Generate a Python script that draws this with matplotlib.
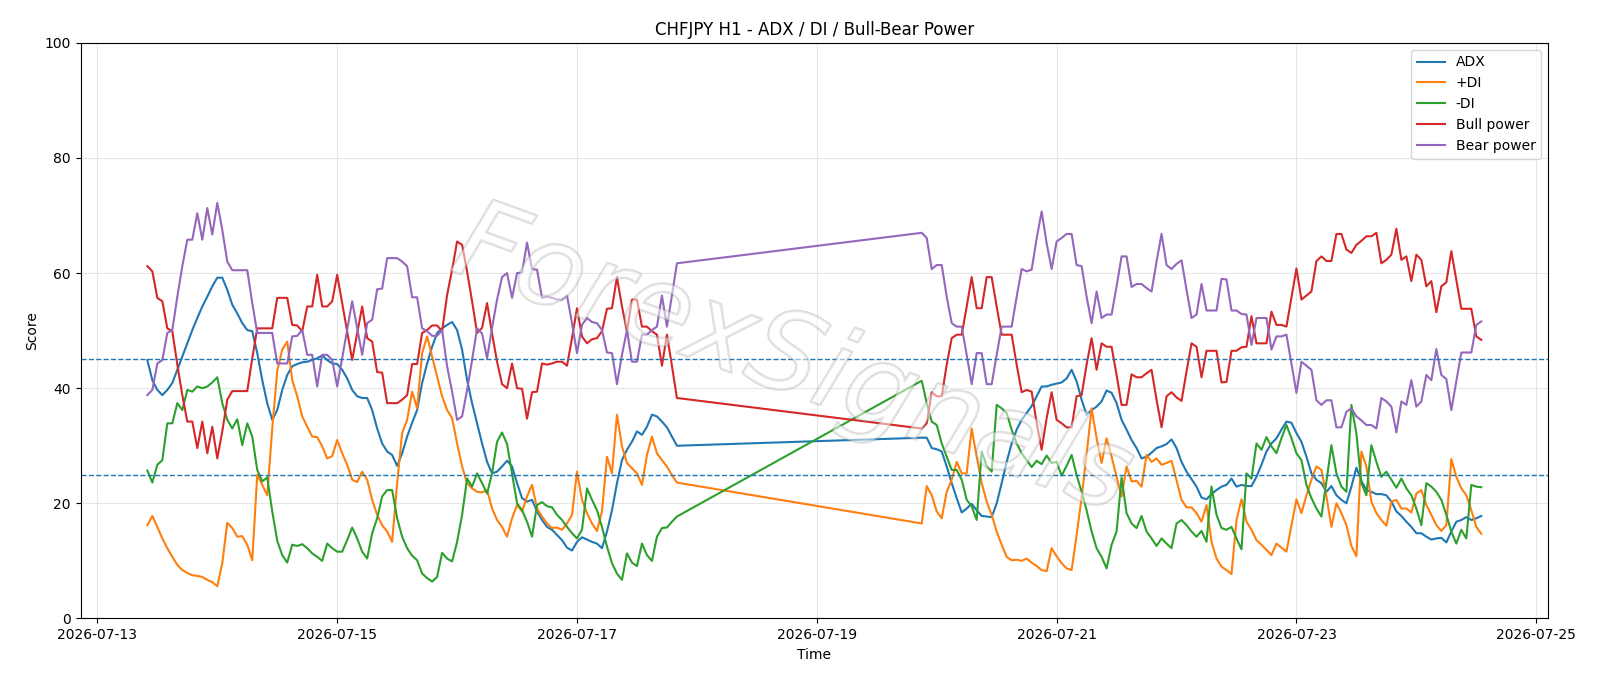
import matplotlib
matplotlib.use("Agg")
import matplotlib.pyplot as plt
import matplotlib.dates as mdates
import matplotlib.patheffects as pe
import pandas as pd

# hourly bars: Mon 07-13 10:00 .. Fri 07-17 20:00, then Sun 07-19 21:00 .. Fri 07-24 13:00
times = list(pd.date_range("2026-07-13 10:00", "2026-07-17 20:00", freq="h")) + \
        list(pd.date_range("2026-07-19 21:00", "2026-07-24 13:00", freq="h"))

adx = [
    44.9, 41.4, 39.7, 38.8, 39.7, 40.9, 43.2, 45.5, 47.8, 50.1,
    52.2, 54.2, 55.9, 57.7, 59.2, 59.2, 57.1, 54.5, 53.0, 51.3,
    50.1, 49.9, 46.1, 41.4, 37.4, 34.5, 36.2, 39.7, 42.3, 43.8,
    44.2, 44.5, 44.6, 44.9, 45.2, 45.7, 44.9, 44.3, 44.2, 43.2,
    41.7, 39.7, 38.6, 38.3, 38.3, 36.2, 33.0, 30.4, 29.0, 28.4,
    26.5, 28.7, 31.6, 34.0, 36.2, 40.9, 44.3, 47.2, 49.6, 50.4,
    51.0, 51.5, 50.1, 46.7, 41.4, 37.4, 33.9, 30.4, 27.2, 25.2,
    25.5, 26.4, 27.4, 26.4, 23.5, 20.9, 20.3, 20.6, 18.6, 17.1,
    15.9, 15.4, 14.5, 13.6, 12.3, 11.8, 13.3, 14.1, 13.7, 13.3,
    13.0, 12.2, 15.1, 18.8, 23.5, 27.5, 29.3, 30.7, 32.5, 31.9,
    33.3, 35.4, 35.1, 34.2, 33.2, 31.6, 30.0,
    31.4, 31.4, 29.6, 29.4, 29.0, 26.4, 23.5, 20.9, 18.4, 19.1,
    19.9, 18.8, 17.8, 17.7, 17.6, 20.0, 23.5, 27.2, 30.4, 32.8,
    34.5, 35.7, 36.9, 38.6, 40.3, 40.3, 40.6, 40.8, 41.0, 41.7,
    43.2, 41.2, 38.0, 35.4, 36.2, 36.8, 37.7, 39.6, 39.2, 37.4,
    34.5, 32.8, 31.0, 29.6, 27.8, 28.1, 28.8, 29.6, 29.9, 30.3,
    31.1, 29.6, 27.2, 25.5, 24.2, 22.9, 21.0, 20.7, 21.6, 22.3,
    22.9, 23.2, 24.3, 22.9, 23.2, 23.0, 23.0, 24.6, 26.7, 29.0,
    30.4, 31.3, 32.8, 34.2, 34.0, 32.2, 30.7, 28.1, 25.2, 24.1,
    23.5, 22.0, 23.0, 21.4, 20.6, 20.0, 22.9, 26.2, 23.9, 22.3,
    22.0, 21.6, 21.6, 21.4, 20.3, 18.6, 17.8, 16.8, 15.9, 14.8,
    14.8, 14.2, 13.7, 13.9, 14.0, 13.2, 15.1, 16.8, 17.1, 17.6,
    17.1, 17.4, 17.8,
]

plus_di = [
    16.2, 17.8, 15.9, 13.9, 12.2, 10.7, 9.3, 8.4, 7.9, 7.5,
    7.4, 7.2, 6.7, 6.3, 5.6, 9.6, 16.6, 15.7, 14.2, 14.3,
    12.8, 10.1, 25.0, 23.2, 21.4, 33.0, 43.0, 46.7, 48.1, 41.4,
    38.6, 35.1, 33.3, 31.6, 31.5, 29.9, 27.8, 28.2, 31.0, 28.7,
    26.7, 24.1, 23.7, 25.5, 24.1, 20.6, 18.0, 16.2, 15.1, 13.3,
    23.5, 32.2, 34.5, 39.4, 36.5, 46.1, 49.0, 45.5, 42.0, 38.6,
    36.2, 34.8, 30.4, 26.4, 23.5, 22.6, 22.0, 21.9, 22.3, 19.1,
    17.1, 15.9, 14.2, 17.4, 19.7, 18.6, 21.2, 23.2, 19.1, 17.7,
    16.5, 15.7, 15.8, 15.4, 16.5, 18.0, 25.5, 20.6, 18.3, 16.5,
    15.2, 18.6, 28.1, 25.2, 35.4, 29.9, 27.0, 26.1, 25.2, 23.2,
    28.4, 31.6, 28.7, 27.5, 26.4, 24.9, 23.6,
    16.5, 23.0, 21.4, 18.6, 17.4, 22.0, 24.1, 27.2, 25.2, 25.2,
    33.0, 28.1, 23.5, 20.3, 18.0, 15.1, 12.8, 10.7, 10.1, 10.2,
    10.0, 10.4, 9.7, 9.1, 8.4, 8.2, 12.2, 10.8, 9.6, 8.7,
    8.4, 14.5, 21.0, 28.5, 36.5, 31.3, 27.0, 31.3, 28.1, 24.6,
    21.2, 26.4, 23.8, 23.9, 22.9, 28.4, 27.2, 27.8, 26.7, 27.0,
    27.4, 24.0, 20.6, 19.3, 19.3, 18.3, 16.8, 19.7, 13.3, 10.4,
    9.0, 8.4, 7.7, 17.1, 20.7, 16.8, 15.4, 13.6, 12.8, 11.9,
    11.0, 13.0, 12.3, 11.6, 16.2, 20.7, 18.3, 21.4, 24.1, 26.4,
    25.8, 21.2, 15.9, 20.0, 18.3, 16.2, 12.6, 10.8, 29.0, 26.4,
    20.3, 18.3, 17.1, 16.1, 20.3, 20.6, 19.1, 19.1, 18.4, 21.7,
    22.3, 19.7, 18.0, 16.2, 15.2, 16.2, 27.7, 24.6, 22.6, 21.4,
    18.8, 15.9, 14.7,
]

minus_di = [
    25.7, 23.6, 26.7, 27.5, 33.9, 33.9, 37.4, 36.2, 39.7, 39.4,
    40.3, 40.0, 40.3, 41.0, 41.9, 37.4, 34.5, 33.0, 34.6, 30.1,
    33.9, 31.6, 25.8, 23.8, 24.5, 18.6, 13.5, 11.0, 9.7, 12.8,
    12.6, 12.9, 12.2, 11.3, 10.7, 10.0, 13.0, 12.2, 11.6, 11.6,
    13.6, 15.8, 13.9, 11.6, 10.4, 14.8, 17.4, 21.2, 22.3, 22.3,
    17.4, 14.2, 12.2, 10.9, 10.1, 7.8, 7.0, 6.4, 7.2, 11.4,
    10.4, 9.9, 13.3, 18.0, 24.3, 22.9, 25.2, 23.5, 21.7, 25.2,
    30.7, 32.3, 30.3, 25.2, 20.0, 18.8, 16.8, 14.2, 19.7, 20.2,
    19.5, 19.3, 18.0, 17.1, 15.9, 14.8, 13.9, 15.4, 22.6, 20.6,
    18.8, 15.9, 12.5, 9.6, 7.8, 6.7, 11.3, 9.7, 9.1, 13.0,
    11.0, 10.0, 14.2, 15.7, 15.8, 16.8, 17.7,
    41.3, 37.4, 34.2, 33.6, 30.4, 28.1, 25.8, 25.8, 24.1, 20.6,
    19.5, 17.1, 29.0, 26.5, 25.5, 37.1, 36.5, 35.7, 32.8, 30.4,
    28.7, 27.5, 26.3, 27.4, 26.8, 28.3, 27.0, 27.2, 24.8, 26.5,
    28.4, 24.9, 22.0, 18.8, 15.1, 12.2, 10.7, 8.7, 12.8, 15.1,
    24.5, 18.3, 16.5, 15.7, 17.8, 15.1, 13.9, 12.6, 13.9, 13.0,
    12.2, 16.5, 17.1, 16.2, 15.1, 14.2, 15.2, 13.3, 22.9, 18.0,
    15.7, 15.4, 15.9, 13.9, 12.0, 25.2, 24.3, 30.4, 29.3, 31.5,
    29.9, 28.7, 31.3, 33.6, 31.3, 28.7, 27.5, 23.2, 20.9, 19.1,
    17.7, 23.8, 30.1, 25.2, 22.9, 22.0, 37.1, 32.1, 23.5, 21.4,
    30.1, 27.2, 24.6, 25.5, 24.1, 22.7, 24.3, 22.6, 21.4, 19.1,
    16.2, 23.5, 22.9, 22.0, 20.6, 18.0, 15.1, 13.0, 15.4, 13.9,
    23.2, 22.9, 22.8,
]

bull_power = [
    61.2, 60.3, 55.7, 55.1, 50.4, 49.9, 44.1, 38.8, 34.2, 34.2,
    29.6, 34.2, 28.7, 33.3, 27.8, 32.5, 38.0, 39.5, 39.5, 39.5,
    39.5, 45.2, 50.4, 50.4, 50.4, 50.4, 55.7, 55.7, 55.7, 51.0,
    50.9, 49.9, 54.2, 54.2, 59.7, 54.2, 54.2, 55.1, 59.7, 54.8,
    49.8, 44.9, 49.5, 54.2, 48.7, 48.1, 42.8, 42.7, 37.4, 37.4,
    37.4, 38.0, 38.8, 44.2, 44.2, 49.6, 50.1, 50.9, 50.9, 49.9,
    56.2, 60.6, 65.5, 64.9, 60.3, 55.1, 49.6, 50.5, 54.8, 49.5,
    44.6, 40.7, 40.0, 44.3, 40.0, 39.9, 34.7, 39.3, 39.4, 44.3,
    44.1, 44.3, 44.6, 44.6, 43.9, 48.7, 53.9, 49.0, 47.8, 48.5,
    48.7, 49.9, 53.8, 53.9, 59.3, 54.2, 49.9, 55.4, 55.4, 50.7,
    50.7, 49.9, 49.3, 43.9, 49.3, 43.9, 38.3,
    33.0, 33.9, 39.3, 38.6, 38.6, 44.1, 48.7, 49.3, 49.3, 54.2,
    59.3, 53.9, 53.9, 59.3, 59.3, 54.2, 49.3, 49.3, 49.3, 44.1,
    39.3, 39.7, 39.4, 34.0, 29.3, 34.8, 39.3, 34.5, 33.9, 33.2,
    33.2, 38.6, 38.8, 44.1, 48.7, 43.2, 47.8, 47.2, 47.2, 42.3,
    37.1, 37.1, 42.4, 41.9, 41.9, 42.6, 43.2, 38.0, 33.2, 38.6,
    39.3, 38.4, 37.8, 42.9, 47.8, 47.2, 41.9, 46.5, 46.5, 46.5,
    41.0, 41.1, 46.5, 46.5, 47.1, 47.2, 52.5, 47.8, 47.8, 47.8,
    53.3, 51.0, 51.0, 50.7, 55.7, 60.8, 55.4, 56.1, 56.8, 62.1,
    62.9, 62.1, 62.1, 66.8, 66.8, 64.1, 63.5, 64.9, 65.6, 66.4,
    66.4, 67.0, 61.7, 62.3, 63.2, 67.7, 62.3, 62.9, 58.6, 63.2,
    62.3, 57.7, 58.6, 53.2, 57.7, 58.4, 63.8, 58.8, 53.8, 53.8,
    53.8, 49.0, 48.4,
]

bear_power = [
    38.8, 39.7, 44.3, 44.9, 49.6, 50.1, 55.9, 61.2, 65.8, 65.8,
    70.4, 65.8, 71.3, 66.7, 72.2, 67.5, 62.0, 60.5, 60.5, 60.5,
    60.5, 54.8, 49.6, 49.6, 49.6, 49.6, 44.3, 44.3, 44.3, 49.0,
    49.1, 50.1, 45.8, 45.8, 40.3, 45.8, 45.8, 44.9, 40.3, 45.2,
    50.2, 55.1, 50.5, 45.8, 51.3, 51.9, 57.2, 57.3, 62.6, 62.6,
    62.6, 62.0, 61.2, 55.8, 55.8, 50.4, 49.9, 49.1, 49.1, 50.1,
    43.8, 39.4, 34.5, 35.1, 39.7, 44.9, 50.4, 49.5, 45.2, 50.5,
    55.4, 59.3, 60.0, 55.7, 60.0, 60.1, 65.3, 60.7, 60.6, 55.7,
    55.9, 55.7, 55.4, 55.4, 56.1, 51.3, 46.1, 51.0, 52.2, 51.5,
    51.3, 50.1, 46.2, 46.1, 40.7, 45.8, 50.1, 44.6, 44.6, 49.3,
    49.3, 50.1, 50.7, 56.1, 50.7, 56.1, 61.7,
    67.0, 66.1, 60.7, 61.4, 61.4, 55.9, 51.3, 50.7, 50.7, 45.8,
    40.7, 46.1, 46.1, 40.7, 40.7, 45.8, 50.7, 50.7, 50.7, 55.9,
    60.7, 60.3, 60.6, 66.0, 70.7, 65.2, 60.7, 65.5, 66.1, 66.8,
    66.8, 61.4, 61.2, 55.9, 51.3, 56.8, 52.2, 52.8, 52.8, 57.7,
    62.9, 62.9, 57.6, 58.1, 58.1, 57.4, 56.8, 62.0, 66.8, 61.4,
    60.7, 61.6, 62.2, 57.1, 52.2, 52.8, 58.1, 53.5, 53.5, 53.5,
    59.0, 58.9, 53.5, 53.5, 52.9, 52.8, 47.5, 52.2, 52.2, 52.2,
    46.7, 49.0, 49.0, 49.3, 44.3, 39.2, 44.6, 43.9, 43.2, 37.9,
    37.1, 37.9, 37.9, 33.2, 33.2, 35.9, 36.5, 35.1, 34.4, 33.6,
    33.6, 33.0, 38.3, 37.7, 36.8, 32.3, 37.7, 37.1, 41.4, 36.8,
    37.7, 42.3, 41.4, 46.8, 42.3, 41.6, 36.2, 41.2, 46.2, 46.2,
    46.2, 51.0, 51.6,
]

fig, ax = plt.subplots(figsize=(16, 6.86), dpi=100)
fig.subplots_adjust(left=0.0504, right=0.9675, bottom=0.0985, top=0.9375)

ax.plot(times, adx, label="ADX")
ax.plot(times, plus_di, label="+DI")
ax.plot(times, minus_di, label="-DI")
ax.plot(times, bull_power, label="Bull power")
ax.plot(times, bear_power, label="Bear power")

# reference levels
ax.axhline(45, linestyle="--", linewidth=1, color="C0")
ax.axhline(25, linestyle="--", linewidth=1, color="C0")

ax.set_ylim(0, 100)
ax.xaxis.set_major_locator(mdates.DayLocator(bymonthday=[13, 15, 17, 19, 21, 23, 25]))
ax.xaxis.set_major_formatter(mdates.DateFormatter("%Y-%m-%d"))
ax.grid(True, alpha=0.3)

ax.set_title("CHFJPY H1 - ADX / DI / Bull-Bear Power")
ax.set_xlabel("Time")
ax.set_ylabel("Score")
ax.legend(loc="upper right")

# watermark
ax.text(0.485, 0.445, "ForexSignals", transform=ax.transAxes, fontsize=80,
        fontstyle="italic", ha="center", va="center", rotation=-20,
        color=(1, 1, 1, 0.3), zorder=5,
        path_effects=[pe.Stroke(linewidth=1.8, foreground=(0.55, 0.55, 0.55, 0.3)), pe.Normal()])

fig.savefig("out.png", dpi=100)
